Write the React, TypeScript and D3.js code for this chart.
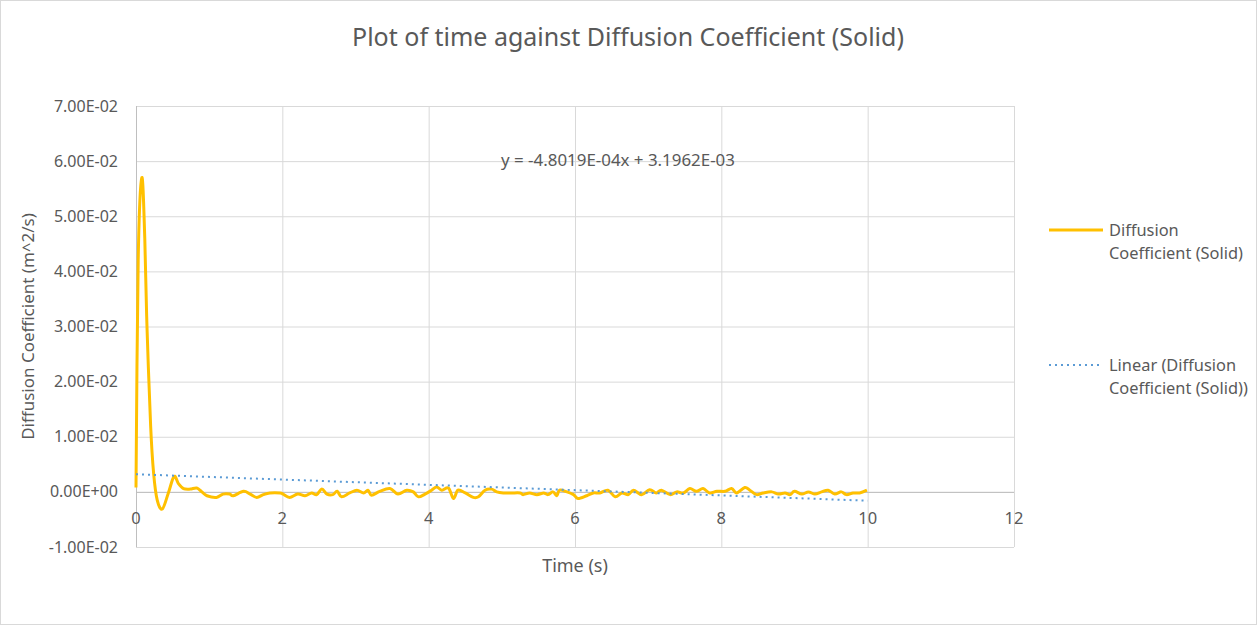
import React from "react";
import * as d3 from "d3";

const title = "Plot of time against Diffusion Coefficient (Solid)";
const xTicks = [0, 2, 4, 6, 8, 10, 12];
const yTicks = [-0.01, 0, 0.01, 0.02, 0.03, 0.04, 0.05, 0.06, 0.07];
const times = [
  0, 0.03, 0.08, 0.12, 0.15, 0.2, 0.24, 0.29, 0.36, 0.44, 0.52, 0.58, 0.65,
  0.74, 0.83, 0.9, 0.97, 1.1, 1.19, 1.28, 1.33, 1.47, 1.56, 1.65, 1.74, 1.83,
  1.97, 2.01, 2.1, 2.21, 2.31, 2.4, 2.47, 2.54, 2.61, 2.69, 2.75, 2.81, 2.92,
  3.02, 3.11, 3.17, 3.22, 3.33, 3.47, 3.58, 3.7, 3.79, 3.86, 3.95, 4.04, 4.11,
  4.18, 4.27, 4.34, 4.4, 4.5, 4.61, 4.68, 4.77, 4.86, 4.93, 5.02, 5.13, 5.25,
  5.29, 5.38, 5.48, 5.57, 5.63, 5.7, 5.75, 5.79, 5.89, 5.98, 6.04, 6.16, 6.25,
  6.34, 6.45, 6.55, 6.64, 6.73, 6.8, 6.91, 7.02, 7.11, 7.18, 7.3, 7.39, 7.48,
  7.57, 7.66, 7.75, 7.84, 7.94, 8.05, 8.14, 8.21, 8.32, 8.39, 8.48, 8.57, 8.69,
  8.78, 8.87, 8.94, 9.0, 9.1, 9.19, 9.28, 9.37, 9.46, 9.55, 9.64, 9.71, 9.8,
  9.89, 9.99,
];
const diffusion = [
  0.0008, 0.042, 0.057, 0.046, 0.03, 0.012, 0.0035, -0.0015, -0.0031, -0.0003,
  0.0028, 0.0015, 0.0006, 0.0005, 0.0007, 0.0, -0.0007, -0.001, -0.0004,
  -0.0004, -0.0007, 0.0001, -0.0004, -0.001, -0.0005, -0.0002, -0.0002,
  -0.0004, -0.001, -0.0004, -0.0007, -0.0002, -0.0005, 0.0005, -0.0004,
  -0.0005, 0.0001, -0.0009, -0.0002, 0.0003, -0.0002, 0.0003, -0.0006, 0.0001,
  0.0006, -0.0004, 0.0003, 0.0, -0.0009, -0.0004, 0.0003, 0.0009, 0.0003,
  0.0007, -0.0012, 0.0003, -0.0002, -0.001, -0.0009, 0.0003, 0.0005, 0.0,
  -0.0002, -0.0002, -0.0002, -0.0005, -0.0002, -0.0005, -0.0002, -0.0005, 0.0,
  -0.0007, 0.0003, 0.0, -0.0005, -0.0012, -0.0007, -0.0002, -0.0002, 0.0003,
  -0.0009, -0.0002, -0.0005, 0.0003, -0.0005, 0.0004, -0.0002, 0.0003,
  -0.0005, 0.0, -0.0002, 0.0006, 0.0001, 0.0006, -0.0002, 0.0001, 0.0001,
  0.0006, -0.0002, 0.0008, 0.0003, -0.0005, -0.0002, 0.0, -0.0004, -0.0002,
  -0.0005, 0.0001, -0.0004, 0.0, -0.0004, 0.0, 0.0003, -0.0004, 0.0, -0.0005,
  -0.0002, -0.0002, 0.0003,
];
const trendSlope = -4.8019e-4;
const trendIntercept = 3.1962e-3;
const trendLabel = "y = -4.8019E-04x + 3.1962E-03";
const legendLabels = [
  ["Diffusion", "Coefficient (Solid)"],
  ["Linear (Diffusion", "Coefficient (Solid))"],
];

const W = 1257;
const H = 625;
const FONT = "'Noto Sans', 'Open Sans', sans-serif";
const TEXT = "#595959";

function fmt(v: number) {
  const [m, e] = v.toExponential(2).split("e");
  const sign = e[0];
  const digits = e.slice(1).padStart(2, "0");
  return `${m}E${sign}${digits}`;
}

export default function App() {
  const x = d3.scaleLinear().domain([0, 12]).range([136, 1014]);
  const y = d3.scaleLinear().domain([-0.01, 0.07]).range([547, 106]);
  const pts: [number, number][] = times.map((t, i) => [t, diffusion[i]]);
  const line = d3
    .line<[number, number]>()
    .x((d) => x(d[0]))
    .y((d) => y(d[1]))
    .curve(d3.curveCardinal.tension(0));
  const trendX = [0, 10];
  const trendPts: [number, number][] = trendX.map((t) => [t, trendSlope * t + trendIntercept]);
  const trendLine = d3
    .line<[number, number]>()
    .x((d) => x(d[0]))
    .y((d) => y(d[1]));

  return (
    <svg
      width={W}
      height={H}
      style={{ position: "absolute", left: 0, top: 0, background: "#fff" }}
      fontFamily={FONT}
    >
      <rect x={0.5} y={0.5} width={W - 1} height={H - 1} fill="#fff" stroke="#d9d9d9" />
      <text x={628} y={37} dy="0.35em" textAnchor="middle" fontSize={25} fill={TEXT}>
        {title}
      </text>
      {/* grid */}
      {yTicks.map((v) => (
        <line key={"gy" + v} x1={x(0)} x2={x(12)} y1={y(v) + 0.5} y2={y(v) + 0.5} stroke="#d9d9d9" strokeWidth={1} />
      ))}
      {xTicks.filter((t) => t !== 0).map((t) => (
        <line key={"gx" + t} x1={x(t) + 0.5} x2={x(t) + 0.5} y1={y(0.07)} y2={y(-0.01)} stroke="#d9d9d9" strokeWidth={1} />
      ))}
      {/* axes */}
      <line x1={x(0) + 0.5} x2={x(0) + 0.5} y1={y(0.07)} y2={y(-0.01)} stroke="#bfbfbf" strokeWidth={1} />
      <line x1={x(0)} x2={x(12)} y1={y(0) + 0.5} y2={y(0) + 0.5} stroke="#bfbfbf" strokeWidth={1} />
      {/* y tick labels */}
      {yTicks.map((v) => (
        <text key={"ly" + v} x={118} y={y(v)} dy="0.35em" textAnchor="end" fontSize={16} fill={TEXT}>
          {fmt(v)}
        </text>
      ))}
      {xTicks.map((t) => (
        <text key={"lx" + t} x={x(t)} y={y(0) + 26} dy="0.35em" textAnchor="middle" fontSize={16.5} fill={TEXT}>
          {t}
        </text>
      ))}
      <text x={575} y={566} dy="0.35em" textAnchor="middle" fontSize={18} fill={TEXT}>
        Time (s)
      </text>
      <text
        transform={`translate(28, ${(y(0.07) + y(-0.01)) / 2}) rotate(-90)`}
        dy="0.35em"
        textAnchor="middle"
        fontSize={17}
        fill={TEXT}
      >
        Diffusion Coefficient (m^2/s)
      </text>
      {/* data */}
      <path d={line(pts) || ""} fill="none" stroke="#FFC000" strokeWidth={3} strokeLinejoin="round" />
      <path
        d={trendLine(trendPts) || ""}
        fill="none"
        stroke="#5B9BD5"
        strokeWidth={2}
        strokeDasharray="2 4"
      />
      <text x={618} y={160} dy="0.35em" textAnchor="middle" fontSize={16.9} fill={TEXT}>
        {trendLabel}
      </text>
      {/* legend */}
      <line x1={1049} x2={1103} y1={230} y2={230} stroke="#FFC000" strokeWidth={3} />
      <text x={1109} y={230} dy="0.35em" fontSize={16.4} fill={TEXT}>
        {legendLabels[0][0]}
      </text>
      <text x={1109} y={253} dy="0.35em" fontSize={16.4} fill={TEXT}>
        {legendLabels[0][1]}
      </text>
      <line x1={1049} x2={1100} y1={365} y2={365} stroke="#5B9BD5" strokeWidth={2} strokeDasharray="2 4" />
      <text x={1109} y={365} dy="0.35em" fontSize={16.4} fill={TEXT}>
        {legendLabels[1][0]}
      </text>
      <text x={1109} y={388} dy="0.35em" fontSize={16.4} fill={TEXT}>
        {legendLabels[1][1]}
      </text>
    </svg>
  );
}
